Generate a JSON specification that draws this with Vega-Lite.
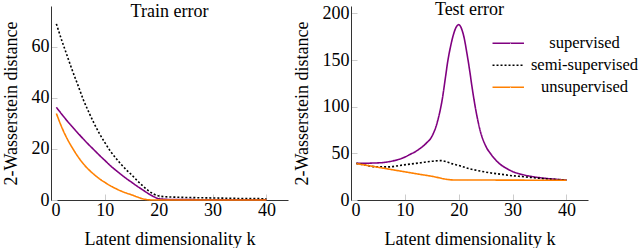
{
  "$schema": "https://vega.github.io/schema/vega-lite/v6.json",
  "padding": {"left": 2, "top": 1, "right": 0, "bottom": 0},
  "config": {
    "font": "Liberation Serif, Times New Roman, serif",
    "view": {"stroke": null},
    "axis": {
      "labelFont": "Liberation Serif, Times New Roman, serif", "titleFont": "Liberation Serif, Times New Roman, serif",
      "labelFontSize": 18, "titleFontSize": 18, "titleFontWeight": "normal",
      "labelColor": "#000", "titleColor": "#000",
      "domainColor": "#333", "domainWidth": 1,
      "tickColor": "#cccccc", "tickSize": -6, "tickWidth": 1,
      "grid": false, "labelPadding": 7, "titlePadding": 7
    },
    "axisY": {"labelPadding": 8, "titlePadding": 10.5},
    "axisX": {"titlePadding": 11},
    "title": {"font": "Liberation Serif, Times New Roman, serif", "fontSize": 18, "fontWeight": "normal", "color": "#000", "offset": -15},
    "legend": {"labelFont": "Liberation Serif, Times New Roman, serif"},
    "concat": {"spacing": 5}
  },
  "datasets": {
    "train": [
      {"k": 1, "v": 36.3, "method": "supervised"}, {"k": 2, "v": 33.6, "method": "supervised"}, {"k": 3, "v": 31.0, "method": "supervised"}, {"k": 4, "v": 28.6, "method": "supervised"}, {"k": 5, "v": 26.2, "method": "supervised"}, {"k": 6, "v": 23.9, "method": "supervised"}, {"k": 7, "v": 21.7, "method": "supervised"}, {"k": 8, "v": 19.6, "method": "supervised"}, {"k": 9, "v": 17.5, "method": "supervised"}, {"k": 10, "v": 15.5, "method": "supervised"}, {"k": 11, "v": 13.5, "method": "supervised"}, {"k": 12, "v": 11.7, "method": "supervised"}, {"k": 13, "v": 10.0, "method": "supervised"}, {"k": 14, "v": 8.4, "method": "supervised"}, {"k": 15, "v": 6.9, "method": "supervised"}, {"k": 16, "v": 5.4, "method": "supervised"}, {"k": 17, "v": 4.0, "method": "supervised"}, {"k": 18, "v": 2.6, "method": "supervised"}, {"k": 19, "v": 1.4, "method": "supervised"}, {"k": 20, "v": 0.5, "method": "supervised"}, {"k": 21, "v": 0.3, "method": "supervised"}, {"k": 22, "v": 0.2, "method": "supervised"}, {"k": 25, "v": 0.15, "method": "supervised"}, {"k": 30, "v": 0.1, "method": "supervised"}, {"k": 35, "v": 0.1, "method": "supervised"}, {"k": 40, "v": 0.1, "method": "supervised"},
      {"k": 1, "v": 69, "method": "semi-supervised"}, {"k": 2, "v": 62.5, "method": "semi-supervised"}, {"k": 3, "v": 56.5, "method": "semi-supervised"}, {"k": 4, "v": 50.5, "method": "semi-supervised"}, {"k": 5, "v": 45, "method": "semi-supervised"}, {"k": 6, "v": 39.3, "method": "semi-supervised"}, {"k": 7, "v": 34.5, "method": "semi-supervised"}, {"k": 8, "v": 30, "method": "semi-supervised"}, {"k": 9, "v": 26, "method": "semi-supervised"}, {"k": 10, "v": 22.5, "method": "semi-supervised"}, {"k": 11, "v": 19.2, "method": "semi-supervised"}, {"k": 12, "v": 16.5, "method": "semi-supervised"}, {"k": 13, "v": 14, "method": "semi-supervised"}, {"k": 14, "v": 11.8, "method": "semi-supervised"}, {"k": 15, "v": 9.8, "method": "semi-supervised"}, {"k": 16, "v": 7.6, "method": "semi-supervised"}, {"k": 17, "v": 5.6, "method": "semi-supervised"}, {"k": 18, "v": 3.8, "method": "semi-supervised"}, {"k": 19, "v": 2.4, "method": "semi-supervised"}, {"k": 20, "v": 1.6, "method": "semi-supervised"}, {"k": 21, "v": 1.3, "method": "semi-supervised"}, {"k": 22, "v": 1.2, "method": "semi-supervised"}, {"k": 25, "v": 1.0, "method": "semi-supervised"}, {"k": 30, "v": 0.8, "method": "semi-supervised"}, {"k": 35, "v": 0.6, "method": "semi-supervised"}, {"k": 40, "v": 0.5, "method": "semi-supervised"},
      {"k": 1, "v": 33.9, "method": "unsupervised"}, {"k": 2, "v": 28.5, "method": "unsupervised"}, {"k": 3, "v": 24, "method": "unsupervised"}, {"k": 4, "v": 20.3, "method": "unsupervised"}, {"k": 5, "v": 17, "method": "unsupervised"}, {"k": 6, "v": 14.2, "method": "unsupervised"}, {"k": 7, "v": 11.9, "method": "unsupervised"}, {"k": 8, "v": 10.0, "method": "unsupervised"}, {"k": 9, "v": 8.3, "method": "unsupervised"}, {"k": 10, "v": 6.9, "method": "unsupervised"}, {"k": 11, "v": 5.6, "method": "unsupervised"}, {"k": 12, "v": 4.5, "method": "unsupervised"}, {"k": 13, "v": 3.5, "method": "unsupervised"}, {"k": 14, "v": 2.7, "method": "unsupervised"}, {"k": 15, "v": 2.0, "method": "unsupervised"}, {"k": 16, "v": 1.2, "method": "unsupervised"}, {"k": 17, "v": 0.5, "method": "unsupervised"}, {"k": 18, "v": 0.1, "method": "unsupervised"}, {"k": 19, "v": 0, "method": "unsupervised"}, {"k": 20, "v": 0, "method": "unsupervised"}, {"k": 25, "v": 0, "method": "unsupervised"}, {"k": 30, "v": 0, "method": "unsupervised"}, {"k": 35, "v": 0, "method": "unsupervised"}, {"k": 40, "v": 0, "method": "unsupervised"}
    ],
    "test": [
      {"k": 1, "v": 39.3, "method": "supervised"}, {"k": 2, "v": 39.3, "method": "supervised"}, {"k": 3, "v": 39.4, "method": "supervised"}, {"k": 4, "v": 39.6, "method": "supervised"}, {"k": 5, "v": 39.8, "method": "supervised"}, {"k": 6, "v": 40.2, "method": "supervised"}, {"k": 7, "v": 41, "method": "supervised"}, {"k": 8, "v": 42.2, "method": "supervised"}, {"k": 9, "v": 43.8, "method": "supervised"}, {"k": 10, "v": 46, "method": "supervised"}, {"k": 11, "v": 49, "method": "supervised"}, {"k": 12, "v": 52, "method": "supervised"}, {"k": 13, "v": 56, "method": "supervised"}, {"k": 14, "v": 61, "method": "supervised"}, {"k": 15, "v": 68, "method": "supervised"}, {"k": 16, "v": 83, "method": "supervised"}, {"k": 17, "v": 110, "method": "supervised"}, {"k": 17.5, "v": 130, "method": "supervised"}, {"k": 18, "v": 150, "method": "supervised"}, {"k": 18.5, "v": 165, "method": "supervised"}, {"k": 19, "v": 177, "method": "supervised"}, {"k": 19.5, "v": 185, "method": "supervised"}, {"k": 20, "v": 188, "method": "supervised"}, {"k": 20.5, "v": 184, "method": "supervised"}, {"k": 21, "v": 174, "method": "supervised"}, {"k": 21.5, "v": 158, "method": "supervised"}, {"k": 22, "v": 140, "method": "supervised"}, {"k": 22.5, "v": 120, "method": "supervised"}, {"k": 23, "v": 102, "method": "supervised"}, {"k": 24, "v": 74, "method": "supervised"}, {"k": 25, "v": 58, "method": "supervised"}, {"k": 26, "v": 49, "method": "supervised"}, {"k": 27, "v": 42, "method": "supervised"}, {"k": 28, "v": 37, "method": "supervised"}, {"k": 29, "v": 33.5, "method": "supervised"}, {"k": 30, "v": 30.5, "method": "supervised"}, {"k": 31, "v": 28.5, "method": "supervised"}, {"k": 32, "v": 27, "method": "supervised"}, {"k": 33, "v": 25.8, "method": "supervised"}, {"k": 34, "v": 24.8, "method": "supervised"}, {"k": 35, "v": 24, "method": "supervised"}, {"k": 36, "v": 23.3, "method": "supervised"}, {"k": 37, "v": 22.7, "method": "supervised"}, {"k": 38, "v": 22.2, "method": "supervised"}, {"k": 39, "v": 21.8, "method": "supervised"}, {"k": 40, "v": 21.4, "method": "supervised"},
      {"k": 1, "v": 39.3, "method": "semi-supervised"}, {"k": 3, "v": 37, "method": "semi-supervised"}, {"k": 5, "v": 35.5, "method": "semi-supervised"}, {"k": 7, "v": 35.5, "method": "semi-supervised"}, {"k": 9, "v": 37, "method": "semi-supervised"}, {"k": 11, "v": 38.5, "method": "semi-supervised"}, {"k": 13, "v": 40, "method": "semi-supervised"}, {"k": 15, "v": 41.5, "method": "semi-supervised"}, {"k": 16.7, "v": 42.2, "method": "semi-supervised"}, {"k": 18, "v": 40.5, "method": "semi-supervised"}, {"k": 19, "v": 38.5, "method": "semi-supervised"}, {"k": 20, "v": 37, "method": "semi-supervised"}, {"k": 22, "v": 33.5, "method": "semi-supervised"}, {"k": 24, "v": 31, "method": "semi-supervised"}, {"k": 26, "v": 29, "method": "semi-supervised"}, {"k": 28, "v": 27.5, "method": "semi-supervised"}, {"k": 30, "v": 26, "method": "semi-supervised"}, {"k": 32, "v": 25, "method": "semi-supervised"}, {"k": 34, "v": 23.8, "method": "semi-supervised"}, {"k": 36, "v": 22.8, "method": "semi-supervised"}, {"k": 38, "v": 22, "method": "semi-supervised"}, {"k": 40, "v": 21.4, "method": "semi-supervised"},
      {"k": 1, "v": 39, "method": "unsupervised"}, {"k": 5, "v": 35.1, "method": "unsupervised"}, {"k": 10, "v": 30.2, "method": "unsupervised"}, {"k": 15, "v": 25.4, "method": "unsupervised"}, {"k": 19, "v": 21.5, "method": "unsupervised"}, {"k": 25, "v": 21.4, "method": "unsupervised"}, {"k": 30, "v": 21.3, "method": "unsupervised"}, {"k": 35, "v": 21.2, "method": "unsupervised"}, {"k": 40, "v": 21.1, "method": "unsupervised"}
    ]
  },
  "resolve": {"scale": {"color": "independent", "strokeDash": "independent"}},
  "hconcat": [
    {
      "width": 237, "height": 194,
      "title": "Train error",
      "data": {"name": "train"},
      "mark": {"type": "line", "interpolate": "monotone", "strokeWidth": 1.6},
      "encoding": {
        "x": {"field": "k", "type": "quantitative", "scale": {"domain": [0, 44], "nice": false}, "axis": {"values": [0, 10, 20, 30, 40], "title": "Latent dimensionality k"}},
        "y": {"field": "v", "type": "quantitative", "scale": {"domain": [0, 76], "nice": false}, "axis": {"values": [0, 20, 40, 60], "title": "2-Wasserstein distance"}},
        "color": {"field": "method", "type": "nominal", "scale": {"domain": ["supervised", "semi-supervised", "unsupervised"], "range": ["#800080", "#000000", "#ff8000"]}, "legend": null},
        "strokeDash": {"field": "method", "type": "nominal", "scale": {"domain": ["supervised", "semi-supervised", "unsupervised"], "range": [[1, 0], [2, 2], [1, 0]]}, "legend": null}
      }
    },
    {
      "width": 237, "height": 194,
      "title": "Test error",
      "data": {"name": "test"},
      "mark": {"type": "line", "interpolate": "monotone", "strokeWidth": 1.6},
      "encoding": {
        "x": {"field": "k", "type": "quantitative", "scale": {"domain": [0, 44], "nice": false}, "axis": {"values": [0, 10, 20, 30, 40], "title": "Latent dimensionality k"}},
        "y": {"field": "v", "type": "quantitative", "scale": {"domain": [0, 208], "nice": false}, "axis": {"values": [0, 50, 100, 150, 200], "title": "2-Wasserstein distance"}},
        "color": {"field": "method", "type": "nominal", "scale": {"domain": ["supervised", "semi-supervised", "unsupervised"], "range": ["#800080", "#000000", "#ff8000"]},
          "legend": {"orient": "none", "legendX": 149, "legendY": 29, "title": null, "symbolType": "M-3,0H3", "symbolSize": 110, "symbolStrokeWidth": 1.6, "labelAlign": "center", "labelOffset": 68, "labelFontSize": 16.5, "labelColor": "#000", "rowPadding": 5}},
        "strokeDash": {"field": "method", "type": "nominal", "scale": {"domain": ["supervised", "semi-supervised", "unsupervised"], "range": [[1, 0], [2, 2], [1, 0]]},
          "legend": {"orient": "none", "legendX": 149, "legendY": 29, "title": null, "symbolType": "M-3,0H3", "symbolSize": 110, "symbolStrokeWidth": 1.6, "labelAlign": "center", "labelOffset": 68, "labelFontSize": 16.5, "labelColor": "#000", "rowPadding": 5}}
      }
    }
  ]
}
